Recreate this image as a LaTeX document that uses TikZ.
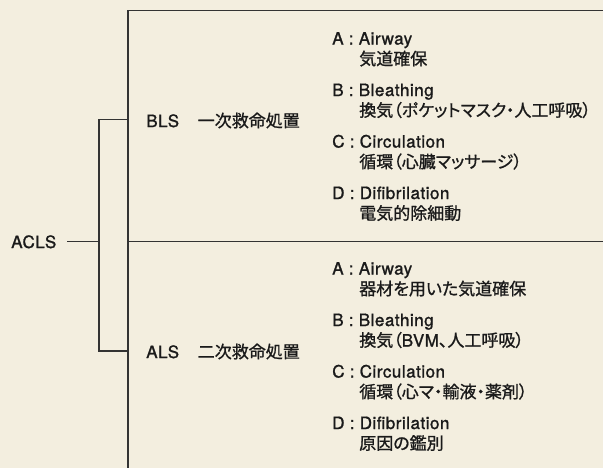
\documentclass[tikz,border=0pt]{standalone}
\usepackage{fontspec}
\setmainfont{TeX Gyre Heros}[FakeBold=1.3,LetterSpace=3]
\newfontfamily\jp{Noto Sans CJK JP}[RawFeature=+palt,FakeBold=1.0]
\definecolor{bg}{HTML}{F3EEDF}
\definecolor{ink}{HTML}{1A1A1A}
\definecolor{lnc}{HTML}{333333}
\begin{document}
\begin{tikzpicture}[x=0.75pt,y=-0.75pt,
  txt/.style={anchor=base west,inner sep=0pt,text=ink,font=\fontsize{12.75pt}{15pt}\selectfont},
  jtxt/.style={txt,font=\fontsize{12.75pt}{15pt}\selectfont\jp},
  rule/.style={draw=lnc,line width=1pt}]
\fill[bg] (0,0) rectangle (603,468);
\useasboundingbox (0,0) rectangle (603,468);
% labels
\node[txt] (acls) at (11,248) {ACLS};
\node[txt] (bls) at (146,127) {BLS\hspace{14pt}{\jp 一次救命処置}};
\node[txt] (als) at (146,358) {ALS\hspace{14pt}{\jp 二次救命処置}};
% frame coordinates
\coordinate (tl) at (128,10.7);
\coordinate (tr) at (603,10.7);
\coordinate (ml) at (128,241.7);
\coordinate (mr) at (603,241.7);
\coordinate (bl) at (128,468);
\coordinate (bt) at (99,119.3);
\coordinate (bm) at (99,241.7);
\coordinate (bb) at (99,351);
\coordinate (blsin) at (128,119.3);
\coordinate (alsin) at (128,351);
\coordinate (aclsout) at (67,241.7);
\draw[rule] (tr) -- (tl) -- (bl);
\draw[rule] (ml) -- (mr);
\draw[rule] (blsin) -- (bt) -- (bb) -- (alsin);
\draw[rule] (aclsout) -- (bm);
% BLS list
\node[txt] (ba1) at (332,44.5) {A : Airway};
\node[jtxt] (ba2) at (359,65) {気道確保};
\node[txt] (bb1) at (332,96) {B : Bleathing};
\node[jtxt] (bb2) at (359,116.5) {換気（ポケットマスク・人工呼吸）};
\node[txt] (bc1) at (332,147.5) {C : Circulation};
\node[jtxt] (bc2) at (359,168) {循環（心臓マッサージ）};
\node[txt] (bd1) at (332,199) {D : Difibrilation};
\node[jtxt] (bd2) at (359,219.5) {電気的除細動};
% ALS list
\node[txt] (aa1) at (332,274.5) {A : Airway};
\node[jtxt] (aa2) at (359,295) {器材を用いた気道確保};
\node[txt] (ab1) at (332,326) {B : Bleathing};
\node[txt] (ab2) at (359,346.5) {{\jp 換気（}BVM{\jp 、人工呼吸）}};
\node[txt] (ac1) at (332,377.5) {C : Circulation};
\node[jtxt] (ac2) at (359,398) {循環（心マ・輸液・薬剤）};
\node[txt] (ad1) at (332,429) {D : Difibrilation};
\node[jtxt] (ad2) at (359,449.5) {原因の鑑別};
\end{tikzpicture}
\end{document}
